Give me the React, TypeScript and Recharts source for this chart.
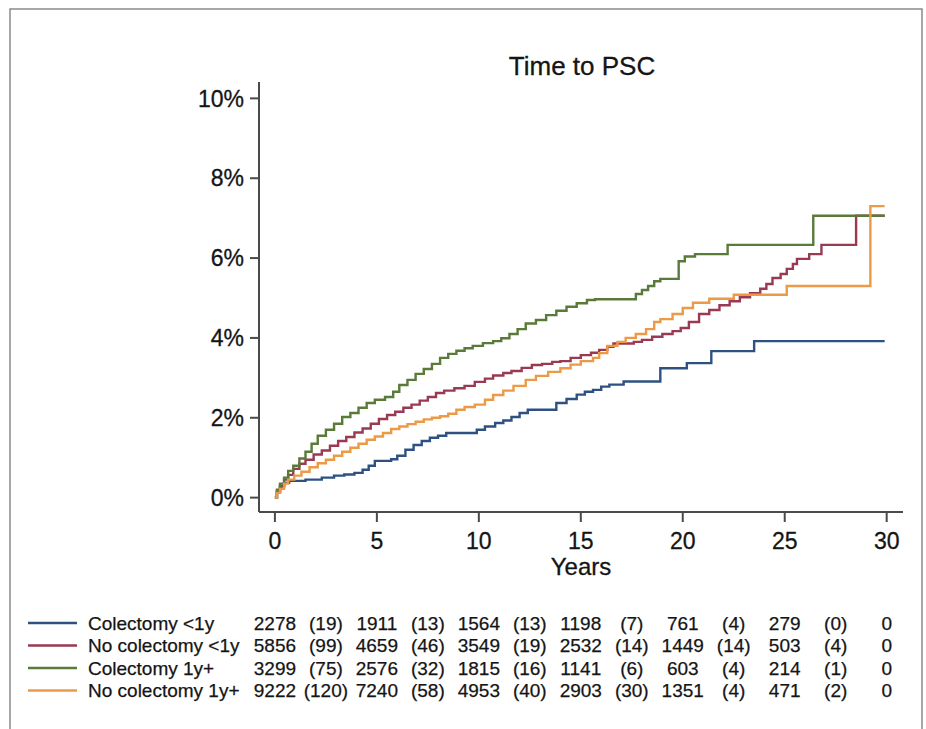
import React from 'react';
import { LineChart, Line, XAxis, YAxis } from 'recharts';

// ---- data (cumulative incidence, %) ----
const blueT = [0, 0.1, 0.25, 0.45, 0.7, 1.5, 2.3, 2.9, 3.4, 3.9, 4.3, 4.6, 4.9, 5.7, 6.0, 6.4, 6.8, 7.2, 7.6, 8.0, 8.4, 9.9, 10.3, 10.8, 11.2, 11.6, 12.0, 12.4, 13.5, 13.8, 14.3, 14.8, 15.2, 15.6, 16.0, 16.4, 17.1, 18.9, 20.2, 21.4, 23.5, 29.9];
const blueV = [0, 0.15, 0.28, 0.37, 0.42, 0.45, 0.5, 0.55, 0.58, 0.62, 0.7, 0.8, 0.92, 0.96, 1.05, 1.2, 1.32, 1.42, 1.5, 1.55, 1.62, 1.7, 1.78, 1.87, 1.93, 2.02, 2.12, 2.2, 2.2, 2.37, 2.47, 2.58, 2.65, 2.7, 2.78, 2.83, 2.91, 3.24, 3.37, 3.67, 3.92, 3.92];

const maroonT = [0, 0.1, 0.25, 0.45, 0.65, 0.9, 1.2, 1.5, 1.9, 2.3, 2.7, 3.1, 3.5, 3.9, 4.3, 4.7, 5.1, 5.5, 5.9, 6.3, 6.7, 7.1, 7.5, 7.9, 8.3, 8.8, 9.3, 9.8, 10.3, 10.7, 11.2, 11.6, 12.1, 12.6, 13.1, 13.6, 14.0, 14.5, 15.0, 15.5, 15.9, 16.3, 16.6, 17.6, 18.0, 18.5, 19.0, 19.5, 19.9, 20.3, 20.8, 21.3, 21.8, 22.3, 22.8, 23.3, 23.8, 24.1, 24.4, 24.8, 25.1, 25.4, 25.6, 26.2, 26.8, 28.5, 29.9];
const maroonV = [0, 0.15, 0.3, 0.45, 0.57, 0.72, 0.85, 0.95, 1.08, 1.18, 1.3, 1.42, 1.52, 1.63, 1.73, 1.85, 1.97, 2.07, 2.15, 2.25, 2.33, 2.43, 2.52, 2.62, 2.68, 2.74, 2.8, 2.9, 2.98, 3.06, 3.12, 3.17, 3.25, 3.32, 3.35, 3.4, 3.42, 3.5, 3.57, 3.63, 3.7, 3.78, 3.86, 3.9, 3.95, 4.03, 4.1, 4.17, 4.25, 4.4, 4.6, 4.7, 4.82, 4.92, 5.02, 5.12, 5.23, 5.35, 5.5, 5.6, 5.73, 5.85, 5.98, 6.1, 6.33, 7.06, 7.06];

const greenT = [0, 0.1, 0.25, 0.45, 0.65, 0.9, 1.2, 1.5, 1.8, 2.1, 2.5, 2.9, 3.3, 3.7, 4.1, 4.5, 4.9, 5.4, 5.8, 6.1, 6.5, 6.9, 7.3, 7.7, 8.1, 8.5, 8.9, 9.3, 9.7, 10.2, 10.7, 11.1, 11.5, 11.9, 12.3, 12.8, 13.3, 13.8, 14.3, 14.8, 15.3, 15.7, 17.7, 18.0, 18.3, 18.6, 18.9, 19.8, 20.1, 20.6, 22.2, 26.4, 29.9];
const greenV = [0, 0.2, 0.35, 0.5, 0.67, 0.8, 0.98, 1.15, 1.35, 1.55, 1.7, 1.85, 2.02, 2.12, 2.25, 2.37, 2.45, 2.52, 2.65, 2.82, 2.95, 3.1, 3.22, 3.35, 3.5, 3.6, 3.68, 3.74, 3.8, 3.87, 3.92, 3.99, 4.1, 4.22, 4.36, 4.45, 4.57, 4.68, 4.78, 4.87, 4.95, 4.97, 5.1, 5.2, 5.3, 5.42, 5.48, 5.92, 6.04, 6.1, 6.33, 7.06, 7.06];

const orangeT = [0, 0.1, 0.25, 0.45, 0.65, 0.95, 1.3, 1.7, 2.1, 2.5, 2.9, 3.3, 3.7, 4.1, 4.5, 4.9, 5.3, 5.7, 6.1, 6.5, 6.9, 7.3, 7.7, 8.1, 8.5, 8.9, 9.3, 9.8, 10.3, 10.7, 11.2, 11.7, 12.3, 12.8, 13.4, 14.0, 14.5, 15.0, 15.6, 15.9, 16.3, 16.8, 17.2, 17.7, 18.2, 18.6, 18.9, 19.5, 20.0, 20.5, 21.3, 22.5, 25.1, 29.2, 29.9];
const orangeV = [0, 0.12, 0.22, 0.35, 0.45, 0.55, 0.65, 0.76, 0.86, 0.95, 1.05, 1.15, 1.25, 1.35, 1.45, 1.53, 1.62, 1.72, 1.78, 1.84, 1.9, 1.96, 2.0, 2.04, 2.1, 2.2, 2.27, 2.33, 2.45, 2.57, 2.68, 2.8, 2.95, 3.05, 3.15, 3.24, 3.33, 3.42, 3.5, 3.62, 3.8, 3.9, 4.0, 4.1, 4.22, 4.4, 4.47, 4.6, 4.75, 4.88, 4.98, 5.08, 5.3, 7.3, 7.3];

const seriesNames = ['Colectomy <1y', 'No colectomy <1y', 'Colectomy 1y+', 'No colectomy 1y+'];
const seriesColors = ['#2e5182', '#993a52', '#5a7a3a', '#ec9a45'];

// number at risk at 0,5,...,30 and events (in brackets) in each 5-year interval
const riskTimes = [0, 5, 10, 15, 20, 25, 30];
const eventTimes = [2.5, 7.5, 12.5, 17.5, 22.5, 27.5];
const atRiskBlue = [2278, 1911, 1564, 1198, 761, 279, 0];
const eventsBlue = [19, 13, 13, 7, 4, 0];
const atRiskMaroon = [5856, 4659, 3549, 2532, 1449, 503, 0];
const eventsMaroon = [99, 46, 19, 14, 14, 4];
const atRiskGreen = [3299, 2576, 1815, 1141, 603, 214, 0];
const eventsGreen = [75, 32, 16, 6, 4, 1];
const atRiskOrange = [9222, 7240, 4953, 2903, 1351, 471, 0];
const eventsOrange = [120, 58, 40, 30, 4, 2];

const xTicks = [0, 5, 10, 15, 20, 25, 30];
const yTicks = [0, 2, 4, 6, 8, 10];

// ---- layout ----
const W = 926;
const H = 729;
const X_DOMAIN: [number, number] = [-0.78, 30.8];
const Y_DOMAIN: [number, number] = [-0.36, 10.41];
const MARGIN = { top: 82, right: 23, bottom: 157, left: 0 };
const Y_AXIS_W = 259;
const X_AXIS_H = 60;
const PLOT_LEFT = MARGIN.left + Y_AXIS_W;
const PLOT_RIGHT = W - MARGIN.right;
const FONT = '"Liberation Sans", Arial, Helvetica, sans-serif';
const AXIS_COLOR = '#4a4a4a';
const TEXT_COLOR = '#151515';

const toRows = (ts: number[], vs: number[]) => ts.map((t, i) => ({ t, v: vs[i] }));
const seriesData = [
  toRows(blueT, blueV),
  toRows(maroonT, maroonV),
  toRows(greenT, greenV),
  toRows(orangeT, orangeV),
];
const atRisk = [atRiskBlue, atRiskMaroon, atRiskGreen, atRiskOrange];
const events = [eventsBlue, eventsMaroon, eventsGreen, eventsOrange];

// same linear mapping as the chart's x axis (used for the risk table below the chart)
const xOf = (t: number) =>
  PLOT_LEFT + ((t - X_DOMAIN[0]) / (X_DOMAIN[1] - X_DOMAIN[0])) * (PLOT_RIGHT - PLOT_LEFT);

const rowY = [623, 645.5, 668, 690.5];

const tickStyle = { fill: TEXT_COLOR, fontSize: 23, fontFamily: FONT, stroke: TEXT_COLOR, strokeWidth: 0.3 };

export default function App() {
  return (
    <div style={{ position: 'absolute', left: 0, top: 0, width: W, height: H, background: '#fff', fontFamily: FONT }}>
      <LineChart width={W} height={H} margin={MARGIN}>
        <XAxis
          type="number"
          dataKey="t"
          domain={X_DOMAIN}
          allowDataOverflow
          ticks={xTicks}
          interval={0}
          height={X_AXIS_H}
          tickSize={10}
          tickMargin={11}
          stroke={AXIS_COLOR}
          strokeWidth={2}
          tick={tickStyle}
        />
        <YAxis
          type="number"
          domain={Y_DOMAIN}
          allowDataOverflow
          ticks={yTicks}
          interval={0}
          width={Y_AXIS_W}
          tickSize={9}
          tickMargin={6}
          stroke={AXIS_COLOR}
          strokeWidth={2}
          tickFormatter={(v: number) => `${v}%`}
          tick={tickStyle}
        />
        {seriesData.map((d, i) => (
          <Line
            key={seriesNames[i]}
            data={d}
            dataKey="v"
            type="stepAfter"
            stroke={seriesColors[i]}
            strokeWidth={2.4}
            dot={false}
            activeDot={false}
            isAnimationActive={false}
          />
        ))}
      </LineChart>
      <svg
        width={W}
        height={H}
        style={{ position: 'absolute', left: 0, top: 0, pointerEvents: 'none' }}
        fontFamily={FONT}
      >
        <path d={`M10,${H} V9 H922 V${H}`} fill="none" stroke="#8a8a8a" strokeWidth={1.5} />
        <text x={582} y={66} textAnchor="middle" dominantBaseline="central" fontSize={26} fill={TEXT_COLOR} stroke={TEXT_COLOR} strokeWidth={0.3}>
          Time to PSC
        </text>
        <text x={(PLOT_LEFT + PLOT_RIGHT) / 2} y={566} textAnchor="middle" dominantBaseline="central" fontSize={24} fill={TEXT_COLOR} stroke={TEXT_COLOR} strokeWidth={0.3}>
          Years
        </text>
        {seriesNames.map((name, r) => (
          <g key={name} fill={TEXT_COLOR} stroke={TEXT_COLOR} strokeWidth={0.25} fontSize={19}>
            <line x1={28} x2={77} y1={rowY[r]} y2={rowY[r]} stroke={seriesColors[r]} strokeWidth={2.4} />
            <text x={88} y={rowY[r]} dominantBaseline="central">
              {name}
            </text>
            {riskTimes.map((t, k) => (
              <text key={`n${k}`} x={xOf(t)} y={rowY[r]} textAnchor="middle" dominantBaseline="central">
                {atRisk[r][k]}
              </text>
            ))}
            {eventTimes.map((t, k) => (
              <text key={`e${k}`} x={xOf(t)} y={rowY[r]} textAnchor="middle" dominantBaseline="central">
                {`(${events[r][k]})`}
              </text>
            ))}
          </g>
        ))}
      </svg>
    </div>
  );
}
